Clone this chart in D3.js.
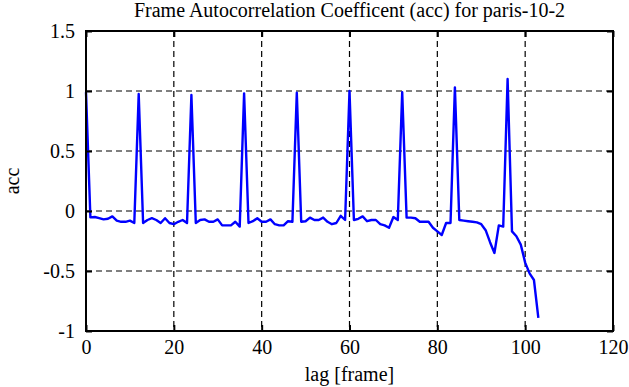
<!DOCTYPE html>
<html>
<head>
<meta charset="utf-8">
<script src="https://cdn.jsdelivr.net/npm/d3@7"></script>
<style>
  body { margin: 0; background: #fff; }
</style>
</head>
<body>
<div id="chart"></div>
<script>
// acc value for each lag 0..103
var accValues = [
  0.99, -0.053, -0.05, -0.06, -0.07, -0.065, -0.045, -0.08, -0.09, -0.09,
  -0.08, -0.1, 0.975, -0.1, -0.075, -0.06, -0.075, -0.1, -0.06, -0.1,
  -0.11, -0.09, -0.075, -0.1, 0.967, -0.1, -0.075, -0.07, -0.09, -0.09,
  -0.07, -0.12, -0.12, -0.12, -0.09, -0.13, 0.98, -0.1, -0.085, -0.06,
  -0.09, -0.09, -0.07, -0.11, -0.12, -0.12, -0.085, -0.09, 0.985, -0.09,
  -0.085, -0.055, -0.075, -0.075, -0.055, -0.09, -0.11, -0.1, -0.04, -0.075,
  1.0, -0.075, -0.065, -0.045, -0.085, -0.075, -0.075, -0.11, -0.12, -0.14,
  -0.05, -0.075, 0.99, -0.055, -0.055, -0.06, -0.09, -0.09, -0.09, -0.14,
  -0.17, -0.2, -0.1, -0.1, 1.03, -0.075, -0.08, -0.085, -0.09, -0.095,
  -0.11, -0.16, -0.26, -0.35, -0.12, -0.13, 1.1, -0.17, -0.21, -0.28,
  -0.43, -0.52, -0.575, -0.89
];
var lags = accValues.map(function (d, i) { return i; });

var xTicks = [0, 20, 40, 60, 80, 100, 120];
var yTicks = [-1, -0.5, 0, 0.5, 1, 1.5];

var titleText = "Frame Autocorrelation Coefficent (acc) for paris-10-2";
var xLabel = "lag [frame]";
var yLabel = "acc";

var serif = "Liberation Serif";

var W = 629, H = 387;
var margin = {top: 31, right: 16, bottom: 56, left: 86},
    width = W - margin.left - margin.right,
    height = H - margin.top - margin.bottom;

var svg = d3.select("#chart")
    .append("svg")
    .attr("width", W)
    .attr("height", H)
    .attr("font-family", serif);

var g = svg.append("g")
    .attr("transform", "translate(" + margin.left + "," + margin.top + ")");

var x = d3.scaleLinear().domain([0, 120]).range([0, width]);
var y = d3.scaleLinear().domain([-1, 1.5]).range([height, 0]);

// grid
g.selectAll(".vgrid")
    .data(xTicks.filter(function (d) { return d > 0 && d < 120; }))
    .enter().append("line")
    .attr("x1", function (d) { return x(d); })
    .attr("x2", function (d) { return x(d); })
    .attr("y1", 0).attr("y2", height)
    .style("stroke", "#000").style("stroke-width", 1.2)
    .style("stroke-dasharray", "6,4");

g.selectAll(".hgrid")
    .data(yTicks.filter(function (d) { return d > -1 && d < 1.5; }))
    .enter().append("line")
    .attr("y1", function (d) { return y(d); })
    .attr("y2", function (d) { return y(d); })
    .attr("x1", 0).attr("x2", width)
    .style("stroke", "#000").style("stroke-width", 1.2)
    .style("stroke-dasharray", "6,4");

// data line
g.append("path")
    .datum(lags)
    .attr("d", d3.line()
        .x(function (d) { return x(d); })
        .y(function (d) { return y(accValues[d]); }))
    .style("fill", "none")
    .style("stroke", "#0000ff")
    .style("stroke-width", 2.4)
    .style("stroke-linejoin", "round");

// axes, ticks inward on all four sides
function styleAxis(sel) {
    sel.attr("font-family", serif).attr("font-size", 20);
    sel.select(".domain").remove();
    sel.selectAll(".tick line").style("stroke", "#000").style("stroke-width", 2);
    sel.selectAll(".tick text").attr("fill", "#000");
}

// plain hyphen for negatives like the original
var fmt = function (d) { return String(d); };

g.append("g")
    .attr("transform", "translate(0," + height + ")")
    .call(d3.axisBottom(x).tickValues(xTicks).tickSize(-6).tickPadding(9).tickFormat(fmt))
    .call(styleAxis);

g.append("g")
    .call(d3.axisTop(x).tickValues(xTicks).tickSize(-6).tickFormat(""))
    .call(styleAxis);

g.append("g")
    .call(d3.axisLeft(y).tickValues(yTicks).tickSize(-6).tickPadding(11).tickFormat(fmt))
    .call(styleAxis);

g.append("g")
    .attr("transform", "translate(" + width + ",0)")
    .call(d3.axisRight(y).tickValues(yTicks).tickSize(-6).tickFormat(""))
    .call(styleAxis);

// frame
g.append("rect")
    .attr("width", width).attr("height", height)
    .style("fill", "none").style("stroke", "#000").style("stroke-width", 2);

// titles
svg.append("text")
    .attr("x", margin.left + width / 2).attr("y", 17)
    .attr("text-anchor", "middle")
    .attr("font-size", 20)
    .text(titleText);

svg.append("text")
    .attr("x", margin.left + width / 2).attr("y", 381)
    .attr("text-anchor", "middle")
    .attr("font-size", 20)
    .text(xLabel);

svg.append("text")
    .attr("transform", "translate(19," + (margin.top + height / 2) + ") rotate(-90)")
    .attr("text-anchor", "middle")
    .attr("font-size", 20)
    .text(yLabel);
</script>
</body>
</html>
